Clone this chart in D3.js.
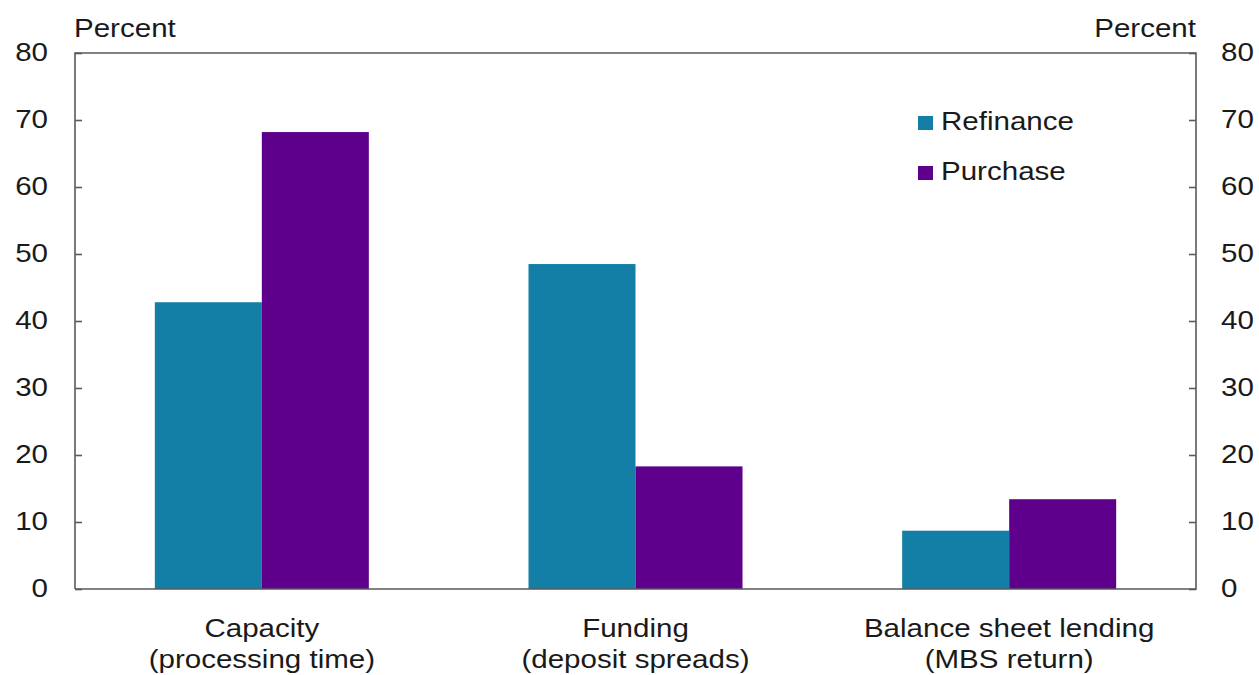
<!DOCTYPE html>
<html>
<head>
<meta charset="utf-8">
<script src="https://cdn.jsdelivr.net/npm/d3@7"></script>
<style>
  html, body { margin: 0; padding: 0; background: #fff; }
  svg { display: block; }
  text { font-family: "Liberation Sans", Arial, sans-serif; fill: #1a1a1a; }
</style>
</head>
<body>
<svg id="chart" width="1259" height="675"></svg>
<script>
const categories = [["Capacity", "(processing time)"], ["Funding", "(deposit spreads)"], ["Balance sheet lending", "(MBS return)"]];
const seriesNames = ["Refinance", "Purchase"];
const refinance = [42.8, 48.5, 8.7];
const purchase = [68.2, 18.3, 13.4];
const yTicks = [0, 10, 20, 30, 40, 50, 60, 70, 80];
const colors = ["#137ea6", "#5e008b"];

const W = 1259, H = 675;
const m = { left: 75, right: 63, top: 53, bottom: 86 };
const svg = d3.select("#chart");
const FS = 25.8, SX = 1.145;

function txt(g, x, y, s, anchor, base) {
  return g.append("text")
    .attr("transform", `translate(${x},${y}) scale(${SX},1)`)
    .attr("text-anchor", anchor || "start")
    .attr("dominant-baseline", base || "auto")
    .style("font-size", FS + "px")
    .text(s);
}

const catIdx = categories.map((d, i) => i);
const x0 = d3.scaleBand().domain(catIdx).range([m.left, W - m.right]).padding(0);
const x1 = d3.scaleBand().domain(seriesNames).range([0, x0.bandwidth()]).paddingInner(0).paddingOuter(0.746);
const y = d3.scaleLinear().domain([0, 80]).range([H - m.bottom, m.top]);

const data = catIdx.map(i => ({ i, vals: [refinance[i], purchase[i]] }));

// bars
const groups = svg.append("g").selectAll("g").data(data).join("g")
  .attr("transform", d => `translate(${x0(d.i)},0)`);
groups.selectAll("rect").data(d => d.vals.map((v, k) => ({ v, k })))
  .join("rect")
  .attr("x", d => x1(seriesNames[d.k]))
  .attr("width", x1.bandwidth())
  .attr("y", d => y(d.v))
  .attr("height", d => y(0) - y(d.v))
  .attr("fill", d => colors[d.k]);

// frame
const axisColor = "#5a5a5a";
const frame = svg.append("g").attr("stroke", axisColor).attr("stroke-width", 1.6).attr("fill", "none");
frame.append("path").attr("d", `M${m.left},${y(0)} V${y(80)} H${W - m.right} V${y(0)} H${m.left}`);

// inner ticks
const leftAxis = d3.axisLeft(y).tickValues(yTicks).tickSize(-7).tickFormat("");
const rightAxis = d3.axisRight(y).tickValues(yTicks).tickSize(-7).tickFormat("");
const la = svg.append("g").attr("transform", `translate(${m.left},0)`).call(leftAxis);
const ra = svg.append("g").attr("transform", `translate(${W - m.right},0)`).call(rightAxis);
[la, ra].forEach(a => {
  a.select(".domain").remove();
  a.selectAll("line").attr("stroke", axisColor).attr("stroke-width", 1.6);
});

// tick labels
const labels = svg.append("g");
yTicks.forEach(t => {
  txt(labels, 48, y(t) + 1, String(t), "end", "middle");
  txt(labels, 1221, y(t) + 1, String(t), "start", "middle");
});

// unit labels
txt(labels, 74, 37, "Percent", "start");
txt(labels, 1196, 37, "Percent", "end");

// category labels
categories.forEach((c, i) => {
  const cx = x0(i) + x0.bandwidth() / 2;
  txt(labels, cx, 637, c[0], "middle");
  txt(labels, cx, 668, c[1], "middle");
});

// legend
const lg = svg.append("g");
seriesNames.forEach((s, k) => {
  const yy = 116 + k * 50;
  lg.append("rect").attr("x", 918).attr("y", yy).attr("width", 15).attr("height", 14).attr("fill", colors[k]);
  txt(lg, 941, yy + 14, s, "start");
});
</script>
</body>
</html>
